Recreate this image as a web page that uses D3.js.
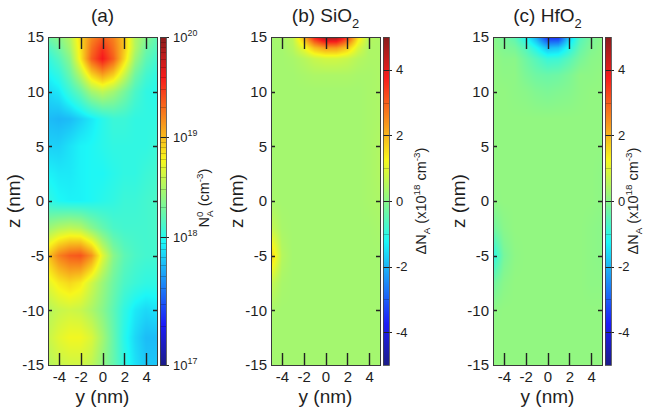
<!DOCTYPE html>
<html>
<head>
<meta charset="utf-8">
<script src="https://cdn.jsdelivr.net/npm/d3@7"></script>
<style>
  body { margin: 0; background: #fff; }
  svg { display: block; font-family: "Liberation Sans", Arial, sans-serif; }
</style>
</head>
<body>
<script>
// grid of the maps: columns are y (nm), rows are z (nm) from top to bottom
const yGrid = [-5, -4, -3, -2, -1, 0, 1, 2, 3, 4, 5];
const zGrid = [15, 14, 13, 11.5, 10, 7.5, 5, 2.5, 0, -2.5, -5, -7.5, -10, -12.5, -15];

// (a) log10 of N_A^0 (cm^-3)
const logNA = [
  [18.26, 18.36, 18.52, 18.89, 19.18, 19.34, 19.21, 18.95, 18.52, 18.36, 18.20],
  [18.13, 18.26, 18.46, 18.85, 19.27, 19.51, 19.27, 18.95, 18.52, 18.26, 18.16],
  [18.03, 18.16, 18.36, 18.82, 19.34, 19.61, 19.34, 18.89, 18.43, 18.20, 18.10],
  [17.95, 18.03, 18.23, 18.52, 18.89, 19.08, 18.92, 18.59, 18.26, 18.10, 18.03],
  [17.87, 17.92, 18.07, 18.23, 18.46, 18.56, 18.46, 18.30, 18.13, 18.03, 18.00],
  [17.79, 17.77, 17.79, 17.85, 17.92, 18.00, 18.07, 18.07, 18.03, 18.03, 18.03],
  [17.85, 17.85, 17.90, 17.95, 17.97, 18.00, 18.03, 18.03, 18.03, 18.03, 18.07],
  [17.95, 17.92, 17.92, 17.95, 17.97, 17.97, 18.00, 18.03, 18.03, 18.07, 18.10],
  [18.03, 17.97, 17.95, 17.95, 17.97, 18.00, 18.03, 18.07, 18.07, 18.10, 18.13],
  [18.43, 18.52, 18.56, 18.52, 18.36, 18.23, 18.13, 18.10, 18.10, 18.10, 18.13],
  [18.95, 19.21, 19.34, 19.38, 19.15, 18.69, 18.36, 18.20, 18.13, 18.10, 18.10],
  [18.69, 18.82, 18.89, 18.82, 18.62, 18.43, 18.26, 18.13, 18.07, 18.03, 18.03],
  [18.52, 18.59, 18.62, 18.59, 18.49, 18.36, 18.20, 18.03, 17.92, 17.87, 17.90],
  [18.59, 18.69, 18.75, 18.75, 18.66, 18.46, 18.23, 18.00, 17.87, 17.79, 17.79],
  [18.52, 18.59, 18.62, 18.62, 18.56, 18.39, 18.23, 18.03, 17.90, 17.82, 17.82]
];

// (b) SiO2: delta N_A (x10^18 cm^-3)
const dSiO2 = [
  [0.3, 0.35, 0.6, 2.0, 3.8, 4.8, 4.8, 3.5, 1.5, 0.5, 0.4],
  [0.3, 0.3, 0.5, 1.1, 1.9, 2.3, 2.3, 1.8, 0.9, 0.4, 0.4],
  [0.3, 0.3, 0.35, 0.5, 0.7, 0.8, 0.8, 0.7, 0.5, 0.4, 0.4],
  [0.3, 0.3, 0.3, 0.35, 0.4, 0.4, 0.4, 0.4, 0.35, 0.35, 0.4],
  [0.3, 0.3, 0.3, 0.3, 0.3, 0.3, 0.3, 0.3, 0.3, 0.35, 0.4],
  [0.3, 0.3, 0.3, 0.3, 0.3, 0.3, 0.3, 0.3, 0.3, 0.35, 0.4],
  [0.3, 0.3, 0.3, 0.3, 0.3, 0.3, 0.3, 0.3, 0.3, 0.35, 0.45],
  [0.3, 0.3, 0.3, 0.3, 0.3, 0.3, 0.3, 0.3, 0.3, 0.35, 0.45],
  [0.35, 0.3, 0.3, 0.3, 0.3, 0.3, 0.3, 0.3, 0.3, 0.35, 0.4],
  [0.7, 0.35, 0.3, 0.3, 0.3, 0.3, 0.3, 0.3, 0.3, 0.3, 0.35],
  [1.8, 0.5, 0.3, 0.3, 0.3, 0.3, 0.3, 0.3, 0.3, 0.3, 0.3],
  [0.7, 0.35, 0.3, 0.3, 0.3, 0.3, 0.3, 0.3, 0.3, 0.3, 0.3],
  [0.35, 0.3, 0.3, 0.3, 0.3, 0.3, 0.3, 0.3, 0.3, 0.3, 0.3],
  [0.3, 0.3, 0.3, 0.3, 0.3, 0.3, 0.3, 0.3, 0.3, 0.3, 0.3],
  [0.3, 0.3, 0.3, 0.3, 0.3, 0.3, 0.3, 0.3, 0.3, 0.3, 0.3]
];

// (c) HfO2: delta N_A (x10^18 cm^-3)
const dHfO2 = [
  [0.0, -0.2, -0.5, -1.2, -2.2, -3.6, -3.6, -1.8, -0.6, -0.2, 0.0],
  [0.05, -0.1, -0.2, -0.6, -1.2, -1.9, -1.8, -1.1, -0.4, -0.1, 0.05],
  [0.1, 0.0, 0.0, -0.3, -0.6, -0.9, -0.85, -0.55, -0.2, 0.0, 0.05],
  [0.1, 0.05, 0.05, -0.15, -0.3, -0.35, -0.3, -0.15, 0.05, 0.05, 0.1],
  [0.1, 0.1, 0.05, 0.0, -0.1, -0.15, -0.1, -0.05, 0.05, 0.1, 0.1],
  [0.1, 0.1, 0.1, 0.1, 0.1, 0.1, 0.1, 0.1, 0.1, 0.1, 0.1],
  [0.1, 0.1, 0.1, 0.1, 0.1, 0.1, 0.1, 0.1, 0.1, 0.1, 0.1],
  [0.1, 0.1, 0.1, 0.1, 0.1, 0.1, 0.1, 0.1, 0.1, 0.1, 0.05],
  [0.05, 0.1, 0.1, 0.1, 0.1, 0.1, 0.1, 0.1, 0.1, 0.1, 0.05],
  [-0.3, 0.0, 0.1, 0.1, 0.1, 0.1, 0.1, 0.1, 0.1, 0.05, 0.0],
  [-1.1, -0.2, 0.05, 0.1, 0.1, 0.1, 0.1, 0.1, 0.1, 0.05, 0.0],
  [-0.3, 0.0, 0.1, 0.1, 0.1, 0.1, 0.1, 0.1, 0.1, 0.05, 0.05],
  [0.05, 0.1, 0.1, 0.1, 0.1, 0.1, 0.1, 0.1, 0.1, 0.1, 0.1],
  [0.1, 0.1, 0.1, 0.1, 0.1, 0.1, 0.1, 0.1, 0.1, 0.1, 0.1],
  [0.1, 0.1, 0.1, 0.1, 0.1, 0.1, 0.1, 0.1, 0.1, 0.1, 0.1]
];

const yTicks = [-4, -2, 0, 2, 4];
const zTicks = [15, 10, 5, 0, -5, -10, -15];
const logTicks = [17, 18, 19, 20];
const logStops = [0, 0.39, 0.695, 1]; // where each decade sits on the colour bar
const deltaTicks = [-4, -2, 0, 2, 4];

const W = 646, H = 417;
const plotLefts = [48, 271, 493];
const plotW = 109, plotTop = 37, plotH = 328;
const cbGap = 3, cbW = 6;
const ink = "#1e1e1e";
const tickInk = "#222";

// jet colour map, slightly softened like the printed figure
const jetStops = ["#00007f", "#0000ff", "#00ffff", "#ffff00", "#ff0000", "#7f0000"]
  .map((c) => d3.interpolateRgb(c, "#c8c8c8")(0.14));
const jet = d3.scaleLinear()
  .domain([0, 0.125, 0.375, 0.625, 0.875, 1])
  .range(jetStops)
  .clamp(true);
const logFrac = d3.scaleLinear().domain(logTicks).range(logStops).clamp(true);
const deltaFrac = d3.scaleLinear().domain([-5, 5]).range([0, 1]).clamp(true);

const panels = [
  { title: [["(a)"]], grid: logNA, frac: logFrac, kind: "log" },
  { title: [["(b) SiO"], ["2", "sub"]], grid: dSiO2, frac: deltaFrac, kind: "delta" },
  { title: [["(c) HfO"], ["2", "sub"]], grid: dHfO2, frac: deltaFrac, kind: "delta" }
];

function sample(grid, yv, zv) {
  let i = d3.bisectRight(yGrid, yv) - 1;
  i = Math.max(0, Math.min(yGrid.length - 2, i));
  const ty = Math.max(0, Math.min(1, (yv - yGrid[i]) / (yGrid[i + 1] - yGrid[i])));
  let j = 0;
  while (j < zGrid.length - 2 && zGrid[j + 1] >= zv) j++;
  const tz = Math.max(0, Math.min(1, (zGrid[j] - zv) / (zGrid[j] - zGrid[j + 1])));
  const a = grid[j][i], b = grid[j][i + 1], c = grid[j + 1][i], d = grid[j + 1][i + 1];
  return (a * (1 - ty) + b * ty) * (1 - tz) + (c * (1 - ty) + d * ty) * tz;
}

const svg = d3.select("body").append("svg").attr("width", W).attr("height", H);

// text with sub/superscript pieces
function richText(sel, parts, size) {
  parts.forEach(([t, mode, extra]) => {
    const ts = sel.append("tspan").text(t);
    if (mode === "sub") ts.attr("font-size", size * 0.68).attr("dy", size * 0.3);
    if (mode === "sup") ts.attr("font-size", size * 0.68).attr("dy", -size * 0.42);
    if (mode === "back") ts.attr("dy", extra);
    if (mode === "subUnder") ts.attr("font-size", size * 0.68).attr("dx", -size * 0.38).attr("dy", size * 0.72);
  });
}

const crisp = (v) => Math.round(v) + 0.5;

panels.forEach((p, k) => {
  const left = plotLefts[k];
  const x = d3.scaleLinear().domain([-5, 5]).range([left, left + plotW]);
  const z = d3.scaleLinear().domain([-15, 15]).range([plotTop + plotH, plotTop]);
  const color = (v) => jet(p.frac(v));

  // heat map image
  const canvas = document.createElement("canvas");
  canvas.width = plotW;
  canvas.height = plotH;
  const ctx = canvas.getContext("2d");
  const img = ctx.createImageData(plotW, plotH);
  for (let py = 0; py < plotH; py++) {
    for (let px = 0; px < plotW; px++) {
      const v = sample(p.grid, x.invert(left + px + 0.5), z.invert(plotTop + py + 0.5));
      const c = d3.rgb(color(v));
      const o = (py * plotW + px) * 4;
      img.data[o] = c.r;
      img.data[o + 1] = c.g;
      img.data[o + 2] = c.b;
      img.data[o + 3] = 255;
    }
  }
  ctx.putImageData(img, 0, 0);
  svg.append("image")
    .attr("href", canvas.toDataURL())
    .attr("x", left).attr("y", plotTop)
    .attr("width", plotW).attr("height", plotH)
    .attr("preserveAspectRatio", "none");

  // tick labels from the axes, tick marks drawn inwards
  const styleAxis = (g) => {
    g.select(".domain").remove();
    g.selectAll(".tick line").remove();
    g.attr("font-family", null).attr("font-size", null);
    g.selectAll(".tick text").attr("font-size", 15).attr("fill", ink);
  };
  svg.append("g").attr("transform", `translate(0,${plotTop + plotH})`)
    .call(d3.axisBottom(x).tickValues(yTicks).tickSize(0).tickPadding(6).tickFormat((d) => String(d)))
    .call(styleAxis);
  svg.append("g").attr("transform", `translate(${left},0)`)
    .call(d3.axisLeft(z).tickValues(zTicks).tickSize(0).tickPadding(4).tickFormat((d) => String(d)))
    .call(styleAxis);

  // frame and inward ticks as one path
  const fr = d3.path();
  yTicks.forEach((d) => {
    const xv = crisp(x(d));
    fr.moveTo(xv, plotTop); fr.lineTo(xv, plotTop + 12);
    fr.moveTo(xv, plotTop + plotH); fr.lineTo(xv, plotTop + plotH - 12);
  });
  zTicks.slice(1, -1).forEach((d) => {
    const zv = crisp(z(d));
    fr.moveTo(left, zv); fr.lineTo(left + 4, zv);
    fr.moveTo(left + plotW, zv); fr.lineTo(left + plotW - 4, zv);
  });
  svg.append("path")
    .attr("d", fr.toString())
    .attr("fill", "none").attr("stroke", tickInk).attr("stroke-width", 1.4);

  svg.append("rect")
    .attr("x", left + 0.5).attr("y", plotTop + 0.5).attr("width", plotW).attr("height", plotH)
    .attr("fill", "none").attr("stroke", "#3a3a3a").attr("stroke-width", 1);

  // panel title
  const title = svg.append("text")
    .attr("x", left + plotW / 2).attr("y", 22)
    .attr("text-anchor", "middle").attr("font-size", 19).attr("fill", ink);
  richText(title, p.title, 19);

  // axis labels
  svg.append("text")
    .attr("x", left + plotW / 2).attr("y", 403)
    .attr("text-anchor", "middle").attr("font-size", 19).attr("fill", ink)
    .text("y (nm)");
  svg.append("text")
    .attr("transform", `translate(${left - 28},${plotTop + plotH / 2}) rotate(-90)`)
    .attr("text-anchor", "middle").attr("font-size", 19).attr("fill", ink)
    .text("z (nm)");

  // colour bar
  const cbLeft = left + plotW + cbGap;
  const cbRight = cbLeft + cbW;
  const cb = d3.scaleLinear().domain([0, 1]).range([plotTop + plotH, plotTop]);
  const cbg = svg.append("g");
  cbg.selectAll("rect.cb")
    .data(d3.range(plotH))
    .join("rect")
    .attr("class", "cb")
    .attr("x", cbLeft).attr("width", cbW)
    .attr("y", (i) => plotTop + i).attr("height", 1.05)
    .attr("fill", (i) => jet(cb.invert(plotTop + i + 0.5)));

  let minor, major;
  if (p.kind === "log") {
    minor = [];
    [17, 18, 19].forEach((n) => d3.range(2, 10).forEach((m) => minor.push(n + Math.log10(m))));
    major = logTicks;
  } else {
    minor = d3.range(-4, 5);
    major = deltaTicks;
  }
  const mp = d3.path();
  minor.forEach((d) => {
    const yv = crisp(cb(p.frac(d)));
    mp.moveTo(cbLeft, yv); mp.lineTo(cbRight, yv);
  });
  cbg.append("path").attr("d", mp.toString())
    .attr("stroke", "#000").attr("stroke-opacity", 0.3).attr("stroke-width", 0.7);
  const jp = d3.path();
  major.forEach((d) => {
    const yv = crisp(cb(p.frac(d)));
    jp.moveTo(cbLeft, yv); jp.lineTo(cbRight + 3, yv);
  });
  cbg.append("path").attr("d", jp.toString())
    .attr("stroke", tickInk).attr("stroke-width", 1);
  cbg.append("rect")
    .attr("x", cbLeft + 0.5).attr("y", plotTop + 0.5).attr("width", cbW).attr("height", plotH)
    .attr("fill", "none").attr("stroke", "#444").attr("stroke-width", 0.8);

  const tickLabels = cbg.selectAll("text.cbt")
    .data(major)
    .join("text")
    .attr("class", "cbt")
    .attr("x", cbRight + 7)
    .attr("y", (d) => cb(p.frac(d)))
    .attr("dy", "0.36em")
    .attr("font-size", 13)
    .attr("fill", ink);
  if (p.kind === "log") {
    tickLabels.each(function (d) {
      richText(d3.select(this), [["10"], [String(d), "sup"]], 13);
    });
  } else {
    tickLabels.text((d) => String(d));
  }

  // colour bar title
  const fs = 14.5;
  const cbTitle = svg.append("text")
    .attr("text-anchor", "middle").attr("font-size", fs).attr("fill", ink);
  if (p.kind === "log") {
    cbTitle.attr("transform", `translate(${cbRight + 43},${plotTop + plotH / 2 - 3}) rotate(-90)`);
    richText(cbTitle, [["N"], ["0", "sup"], ["A", "subUnder"], [" (cm", "back", -fs * 0.3], ["-3", "sup"], [")", "back", fs * 0.42]], fs);
  } else {
    const tx = Math.min(cbRight + 37, W - 8);
    cbTitle.attr("transform", `translate(${tx},${plotTop + plotH / 2}) rotate(-90)`);
    richText(cbTitle, [["ΔN"], ["A", "sub"], [" (x10", "back", -fs * 0.3], ["18", "sup"], [" cm", "back", fs * 0.42], ["-3", "sup"], [")", "back", fs * 0.42]], fs);
  }
});
</script>
</body>
</html>
